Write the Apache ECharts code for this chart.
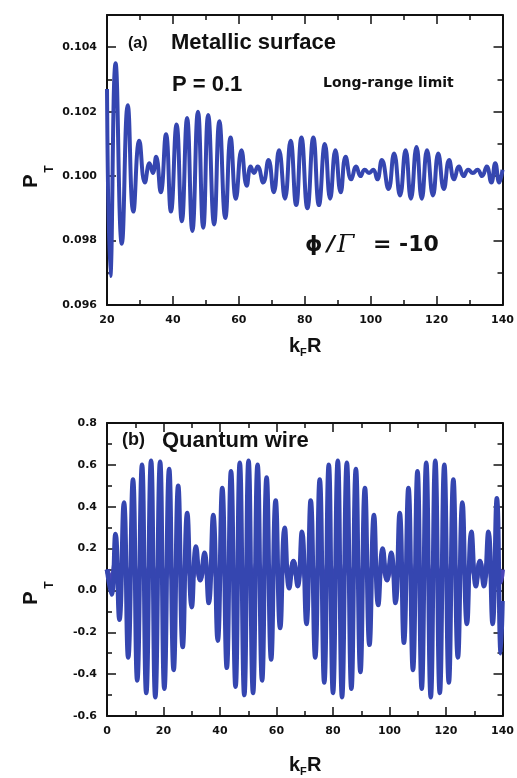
<!DOCTYPE html>
<html>
<head>
<meta charset="utf-8">
<script src="https://cdn.jsdelivr.net/npm/echarts@6/dist/echarts.min.js"></script>
<style>
  html, body { margin: 0; padding: 0; background: #fff; }
  #main { width: 517px; height: 778px; }
</style>
</head>
<body>
<div id="main"></div>
<script>
// (a) metallic surface, P = 0.1, phi/Gamma = -10 -- extrema
const surfKR = [20.0, 21.0, 22.6, 24.5, 26.3, 28.0, 29.8, 31.5, 32.9, 33.9, 34.9, 36.3, 37.9, 39.4, 41.1, 42.7,
  44.3, 45.9, 47.6, 49.2, 50.7, 52.5, 54.1, 55.9, 57.5, 59.1, 60.8, 62.4, 63.6, 64.6, 65.7, 67.4,
  69.0, 70.6, 72.2, 74.0, 75.7, 77.4, 79.0, 80.8, 82.6, 84.3, 86.1, 87.7, 89.3, 90.9, 92.4, 94.1,
  95.6, 96.9, 98.2, 99.5, 100.8, 102.0, 103.4, 105.4, 107.1, 108.9, 110.6, 112.2, 113.9, 115.5, 117.1, 118.9,
  120.5, 122.2, 123.8, 125.3, 126.8, 128.2, 129.6, 131.0, 132.4, 133.8, 135.2, 136.6, 137.8, 139.0, 140.0];
const surfPT = [0.1027, 0.0969, 0.1035, 0.0979, 0.1022, 0.0989, 0.1011, 0.0998, 0.1004, 0.1001, 0.1006, 0.0995, 0.1013, 0.0989, 0.1016, 0.0986,
  0.1018, 0.0983, 0.1020, 0.0984, 0.1019, 0.0985, 0.1017, 0.0987, 0.1012, 0.0993, 0.1008, 0.0997, 0.1003, 0.1001, 0.1003, 0.0998,
  0.1005, 0.0995, 0.1008, 0.0993, 0.1011, 0.0991, 0.1012, 0.0990, 0.1012, 0.0991, 0.1010, 0.0993, 0.1008, 0.0995, 0.1006, 0.0999,
  0.1003, 0.1000, 0.1002, 0.1001, 0.1002, 0.0999, 0.1005, 0.0996, 0.1007, 0.0994, 0.1008, 0.0993, 0.1009, 0.0993, 0.1008, 0.0994,
  0.1007, 0.0996, 0.1005, 0.0999, 0.1003, 0.1000, 0.1002, 0.1001, 0.1002, 0.1000, 0.1003, 0.0998, 0.1004, 0.0998, 0.1002];

// (b) quantum wire
const wireKR = [0.0, 1.6, 3.0, 4.4, 6.0, 7.5, 9.2, 10.7, 12.4, 13.9, 15.6, 17.1, 18.8, 20.3, 22.0, 23.6,
  25.2, 26.8, 28.4, 30.0, 31.5, 33.0, 34.5, 36.0, 37.6, 39.2, 40.8, 42.4, 43.9, 45.5, 47.0, 48.6,
  50.1, 51.7, 53.3, 54.9, 56.5, 58.1, 59.7, 61.3, 62.9, 64.5, 66.0, 67.5, 69.0, 70.6, 72.1, 73.7,
  75.3, 76.9, 78.5, 80.0, 81.7, 83.2, 84.9, 86.5, 88.1, 89.7, 91.3, 92.9, 94.5, 96.0, 97.6, 99.1,
  100.6, 102.1, 103.6, 105.1, 106.7, 108.3, 109.9, 111.4, 113.0, 114.6, 116.2, 117.8, 119.4, 121.0, 122.6, 124.2,
  125.8, 127.4, 129.0, 130.6, 132.0, 133.4, 135.0, 136.5, 138.0, 139.4, 140.0];
const wirePT = [0.10, -0.02, 0.27, -0.14, 0.42, -0.32, 0.53, -0.43, 0.60, -0.49, 0.62, -0.51, 0.615, -0.47, 0.58, -0.38,
  0.50, -0.27, 0.37, -0.08, 0.21, 0.05, 0.18, -0.06, 0.36, -0.24, 0.49, -0.37, 0.57, -0.46, 0.61, -0.50,
  0.62, -0.49, 0.60, -0.43, 0.54, -0.33, 0.43, -0.18, 0.30, 0.01, 0.14, 0.02, 0.28, -0.16, 0.43, -0.32,
  0.53, -0.44, 0.60, -0.49, 0.62, -0.51, 0.61, -0.47, 0.58, -0.39, 0.49, -0.26, 0.36, -0.07, 0.20, 0.05,
  0.18, -0.06, 0.37, -0.25, 0.49, -0.38, 0.57, -0.47, 0.61, -0.51, 0.62, -0.49, 0.60, -0.44, 0.53, -0.32,
  0.42, -0.16, 0.28, 0.02, 0.14, 0.02, 0.28, -0.16, 0.44, -0.30, -0.05];
// second, low-amplitude curve in (b): mostly hidden, shows as the solid band near P = 0.1
const wireBand = [0.10, 0.04, 0.14, 0.04, 0.15, 0.04, 0.14, 0.03, 0.15, 0.04, 0.14, 0.04, 0.15, 0.04, 0.14, 0.03,
  0.15, 0.04, 0.14, 0.05, 0.14, 0.05, 0.14, 0.05, 0.14, 0.04, 0.15, 0.04, 0.14, 0.03, 0.15, 0.04,
  0.14, 0.04, 0.15, 0.04, 0.14, 0.04, 0.14, 0.05, 0.14, 0.05, 0.14, 0.05, 0.14, 0.04, 0.15, 0.04,
  0.14, 0.03, 0.15, 0.04, 0.14, 0.04, 0.15, 0.04, 0.14, 0.03, 0.15, 0.04, 0.14, 0.05, 0.14, 0.05,
  0.14, 0.05, 0.14, 0.04, 0.15, 0.04, 0.14, 0.03, 0.15, 0.04, 0.14, 0.04, 0.15, 0.04, 0.14, 0.04,
  0.14, 0.05, 0.14, 0.05, 0.14, 0.05, 0.14, 0.04, 0.15, 0.04, 0.10];

// tick values
const surfXTicks = [20, 40, 60, 80, 100, 120, 140];
const surfXMinor = [30, 50, 70, 90, 110, 130];
const surfYTicks = [0.096, 0.098, 0.100, 0.102, 0.104];
const surfYMinor = [0.097, 0.099, 0.101, 0.103];
const wireXTicks = [0, 20, 40, 60, 80, 100, 120, 140];
const wireXMinor = [10, 30, 50, 70, 90, 110, 130];
const wireYTicks = [-0.6, -0.4, -0.2, 0.0, 0.2, 0.4, 0.6, 0.8];
const wireYMinor = [-0.5, -0.3, -0.1, 0.1, 0.3, 0.5, 0.7];

const ink = '#111';
const curveColor = '#3546b0';
const bandColor = '#4a45b8';
const opposite = { bottom: 'top', left: 'right' };

// 4 axes per side pair: labelled side (major + minor) and the mirrored side (major + minor)
function boxAxes(grid, pos, min, max, major, minor, fmt) {
  const out = [];
  [pos, opposite[pos]].forEach(function (p, i) {
    out.push({
      type: 'value', gridIndex: grid, position: p, min: min, max: max,
      splitLine: { show: false },
      axisLine: { show: true, onZero: false, lineStyle: { color: ink, width: 2 } },
      axisTick: { show: true, inside: true, length: 9, customValues: major, lineStyle: { color: ink, width: 1.5 } },
      axisLabel: i === 0 ? {
        show: true, customValues: major, formatter: fmt, margin: 10,
        color: ink, fontFamily: 'DejaVu Sans', fontWeight: 'bold', fontSize: 11
      } : { show: false }
    });
    out.push({
      type: 'value', gridIndex: grid, position: p, min: min, max: max,
      splitLine: { show: false },
      axisLine: { show: false, onZero: false },
      axisTick: { show: true, inside: true, length: 5, customValues: minor, lineStyle: { color: ink, width: 1.5 } },
      axisLabel: { show: false }
    });
  });
  return out;
}

function txt(x, y, text, font, extra) {
  return Object.assign({
    type: 'text', x: x, y: y, silent: true,
    style: { text: text, font: font, fill: ink, textAlign: 'left', textVerticalAlign: 'middle' }
  }, extra || {});
}

// rotated text, centred on (x, y)
function vtxt(x, y, text, font) {
  return {
    type: 'text', x: x, y: y, rotation: Math.PI / 2, silent: true,
    style: { text: text, font: font, fill: ink, textAlign: 'center', textVerticalAlign: 'middle' }
  };
}

function pairs(xs, ys) {
  return xs.map(function (k, i) { return [k, ys[i]]; });
}

const titleFont = 'bold 20px Liberation Sans';
const subFont = 'bold 11px Liberation Sans';

const chart = echarts.init(document.getElementById('main'), null, { renderer: 'canvas' });

const option = {
  animation: false,
  backgroundColor: '#fff',
  grid: [
    { left: 107, top: 15, width: 399, height: 290 },
    { left: 107, top: 423, width: 398, height: 293 }
  ],
  xAxis: [].concat(
    boxAxes(0, 'bottom', 20, 140, surfXTicks, surfXMinor, function (v) { return String(v); }),
    boxAxes(1, 'bottom', 0, 140, wireXTicks, wireXMinor, function (v) { return String(v); })
  ),
  yAxis: [].concat(
    boxAxes(0, 'left', 0.096, 0.105, surfYTicks, surfYMinor, function (v) { return v.toFixed(3); }),
    boxAxes(1, 'left', -0.6, 0.8, wireYTicks, wireYMinor, function (v) { return v.toFixed(1); })
  ),
  series: [
    {
      type: 'line', xAxisIndex: 0, yAxisIndex: 0,
      data: pairs(surfKR, surfPT),
      showSymbol: false, smooth: 0.5,
      lineStyle: { color: curveColor, width: 4 }
    },
    {
      type: 'line', xAxisIndex: 4, yAxisIndex: 4,
      data: pairs(wireKR, wireBand),
      showSymbol: false, smooth: 0.3,
      lineStyle: { color: bandColor, width: 5 }
    },
    {
      type: 'line', xAxisIndex: 4, yAxisIndex: 4,
      data: pairs(wireKR, wirePT),
      showSymbol: false, smooth: 0.5,
      lineStyle: { color: curveColor, width: 4.5 }
    }
  ],
  graphic: [
    txt(128, 44, '(a)', 'bold 16px Liberation Sans'),
    txt(171, 43, 'Metallic surface', 'bold 22px Liberation Sans'),
    txt(172, 85, 'P = 0.1', 'bold 22px Liberation Sans'),
    txt(323, 83, 'Long-range limit', 'bold 14px DejaVu Sans'),
    txt(305, 245, 'ϕ', 'bold 22px DejaVu Sans'),
    txt(327, 245, '/', 'italic bold 22px DejaVu Sans'),
    txt(337, 245, 'Γ', 'italic 25px DejaVu Serif'),
    txt(373, 245, '= -10', 'bold 22px DejaVu Sans'),
    txt(122, 440, '(b)', 'bold 18px Liberation Sans'),
    txt(162, 441, 'Quantum wire', 'bold 22px Liberation Sans'),
    // axis titles k_F R
    txt(289, 346, 'k', titleFont), txt(300, 353, 'F', subFont), txt(307, 346, 'R', titleFont),
    txt(289, 765, 'k', titleFont), txt(300, 772, 'F', subFont), txt(307, 765, 'R', titleFont),
    // axis titles P_T (rotated)
    vtxt(31, 181, 'P', titleFont), vtxt(50, 169, 'T', 'bold 12px Liberation Sans'),
    vtxt(31, 598, 'P', titleFont), vtxt(50, 585, 'T', 'bold 12px Liberation Sans')
  ]
};

chart.setOption(option);
</script>
</body>
</html>
